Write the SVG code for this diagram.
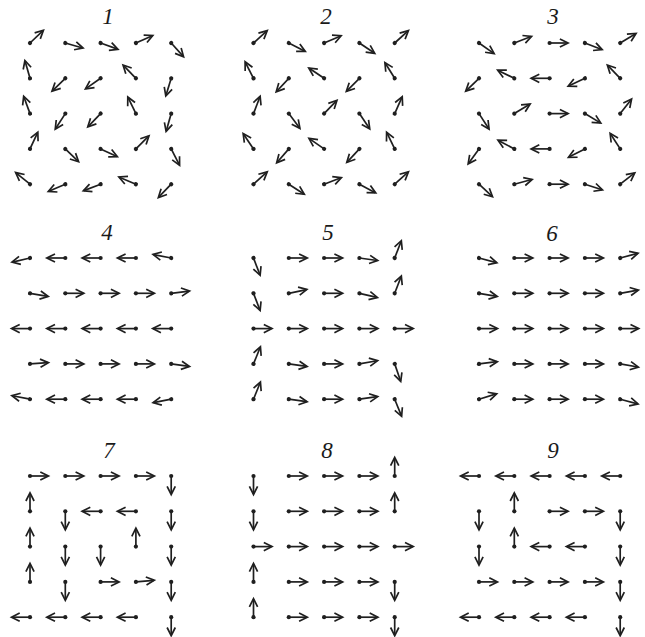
<svg xmlns="http://www.w3.org/2000/svg" width="645" height="637" viewBox="0 0 645 637">
<style>
.t{font-family:"Liberation Serif","Times New Roman",serif;font-style:italic;font-size:23px;fill:#1a1a1a;text-anchor:middle}
.ar line,.ar polyline{stroke:#1f1f1f;stroke-width:1.7;fill:none}
.ar circle{fill:#1f1f1f}
</style>
<defs>
<g id="a" class="ar"><line x1="0" y1="0" x2="18" y2="0"/><polyline points="10.3,-4.1 18.5,0 10.3,4.1"/><circle r="2.1"/></g>
</defs>
<rect width="645" height="637" fill="#fff"/>
<g id="titles">
<text class="t" x="108" y="24">1</text>
<text class="t" x="326" y="24">2</text>
<text class="t" x="553" y="24">3</text>
<text class="t" x="107" y="240">4</text>
<text class="t" x="328" y="240">5</text>
<text class="t" x="552" y="241">6</text>
<text class="t" x="109" y="458">7</text>
<text class="t" x="327" y="458">8</text>
<text class="t" x="553" y="458">9</text>
</g>
<g id="connectors">
<g id="panel1" transform="translate(30,43)">
<use href="#a" transform="translate(0 0) rotate(-43.5)"/><use href="#a" transform="translate(35.3 0) rotate(16)"/><use href="#a" transform="translate(70.6 0) rotate(20)"/><use href="#a" transform="translate(105.9 0) rotate(-24)"/><use href="#a" transform="translate(141.2 0) rotate(48)"/>
<use href="#a" transform="translate(0 35.3) rotate(-106)"/><use href="#a" transform="translate(35.3 35.3) rotate(136)"/><use href="#a" transform="translate(70.6 35.3) rotate(145)"/><use href="#a" transform="translate(105.9 35.3) rotate(-134)"/><use href="#a" transform="translate(141.2 35.3) rotate(107)"/>
<use href="#a" transform="translate(0 70.6) rotate(-110)"/><use href="#a" transform="translate(35.3 70.6) rotate(123)"/><use href="#a" transform="translate(70.6 70.6) rotate(134)"/><use href="#a" transform="translate(105.9 70.6) rotate(-116)"/><use href="#a" transform="translate(141.2 70.6) rotate(106)"/>
<use href="#a" transform="translate(0 105.9) rotate(-65)"/><use href="#a" transform="translate(35.3 105.9) rotate(44)"/><use href="#a" transform="translate(70.6 105.9) rotate(25)"/><use href="#a" transform="translate(105.9 105.9) rotate(-45)"/><use href="#a" transform="translate(141.2 105.9) rotate(63)"/>
<use href="#a" transform="translate(0 141.2) rotate(-141)"/><use href="#a" transform="translate(35.3 141.2) rotate(157)"/><use href="#a" transform="translate(70.6 141.2) rotate(159)"/><use href="#a" transform="translate(105.9 141.2) rotate(-157)"/><use href="#a" transform="translate(141.2 141.2) rotate(134)"/>
</g>
<g id="panel2" transform="translate(253.5,43)">
<use href="#a" transform="translate(0 0) rotate(-42)"/><use href="#a" transform="translate(35.3 0) rotate(27)"/><use href="#a" transform="translate(70.6 0) rotate(-23)"/><use href="#a" transform="translate(105.9 0) rotate(34)"/><use href="#a" transform="translate(141.2 0) rotate(-42)"/>
<use href="#a" transform="translate(0 35.3) rotate(-117)"/><use href="#a" transform="translate(35.3 35.3) rotate(133)"/><use href="#a" transform="translate(70.6 35.3) rotate(-146)"/><use href="#a" transform="translate(105.9 35.3) rotate(135)"/><use href="#a" transform="translate(141.2 35.3) rotate(-122)"/>
<use href="#a" transform="translate(0 70.6) rotate(-69)"/><use href="#a" transform="translate(35.3 70.6) rotate(53)"/><use href="#a" transform="translate(70.6 70.6) rotate(-46)"/><use href="#a" transform="translate(105.9 70.6) rotate(56)"/><use href="#a" transform="translate(141.2 70.6) rotate(-66)"/>
<use href="#a" transform="translate(0 105.9) rotate(-124)"/><use href="#a" transform="translate(35.3 105.9) rotate(131)"/><use href="#a" transform="translate(70.6 105.9) rotate(-145)"/><use href="#a" transform="translate(105.9 105.9) rotate(133)"/><use href="#a" transform="translate(141.2 105.9) rotate(-116)"/>
<use href="#a" transform="translate(0 141.2) rotate(-42)"/><use href="#a" transform="translate(35.3 141.2) rotate(33)"/><use href="#a" transform="translate(70.6 141.2) rotate(-21)"/><use href="#a" transform="translate(105.9 141.2) rotate(28)"/><use href="#a" transform="translate(141.2 141.2) rotate(-42)"/>
</g>
<g id="panel3" transform="translate(479,43)">
<use href="#a" transform="translate(0 0) rotate(35)"/><use href="#a" transform="translate(35.3 0) rotate(-21)"/><use href="#a" transform="translate(70.6 0) rotate(0)"/><use href="#a" transform="translate(105.9 0) rotate(21)"/><use href="#a" transform="translate(141.2 0) rotate(-31)"/>
<use href="#a" transform="translate(0 35.3) rotate(136)"/><use href="#a" transform="translate(35.3 35.3) rotate(-154)"/><use href="#a" transform="translate(70.6 35.3) rotate(180)"/><use href="#a" transform="translate(105.9 35.3) rotate(155)"/><use href="#a" transform="translate(141.2 35.3) rotate(-134)"/>
<use href="#a" transform="translate(0 70.6) rotate(57)"/><use href="#a" transform="translate(35.3 70.6) rotate(-31)"/><use href="#a" transform="translate(70.6 70.6) rotate(0)"/><use href="#a" transform="translate(105.9 70.6) rotate(31)"/><use href="#a" transform="translate(141.2 70.6) rotate(-52)"/>
<use href="#a" transform="translate(0 105.9) rotate(126)"/><use href="#a" transform="translate(35.3 105.9) rotate(-152)"/><use href="#a" transform="translate(70.6 105.9) rotate(180)"/><use href="#a" transform="translate(105.9 105.9) rotate(153)"/><use href="#a" transform="translate(141.2 105.9) rotate(-123)"/>
<use href="#a" transform="translate(0 141.2) rotate(43)"/><use href="#a" transform="translate(35.3 141.2) rotate(-15)"/><use href="#a" transform="translate(70.6 141.2) rotate(0)"/><use href="#a" transform="translate(105.9 141.2) rotate(18)"/><use href="#a" transform="translate(141.2 141.2) rotate(-38)"/>
</g>
<g id="panel4" transform="translate(30,258)">
<use href="#a" transform="translate(0 0) rotate(167)"/><use href="#a" transform="translate(35.3 0) rotate(180)"/><use href="#a" transform="translate(70.6 0) rotate(180)"/><use href="#a" transform="translate(105.9 0) rotate(180)"/><use href="#a" transform="translate(141.2 0) rotate(-169)"/>
<use href="#a" transform="translate(0 35.3) rotate(10)"/><use href="#a" transform="translate(35.3 35.3) rotate(0)"/><use href="#a" transform="translate(70.6 35.3) rotate(0)"/><use href="#a" transform="translate(105.9 35.3) rotate(0)"/><use href="#a" transform="translate(141.2 35.3) rotate(-7)"/>
<use href="#a" transform="translate(0 70.6) rotate(180)"/><use href="#a" transform="translate(35.3 70.6) rotate(180)"/><use href="#a" transform="translate(70.6 70.6) rotate(180)"/><use href="#a" transform="translate(105.9 70.6) rotate(180)"/><use href="#a" transform="translate(141.2 70.6) rotate(180)"/>
<use href="#a" transform="translate(0 105.9) rotate(-4)"/><use href="#a" transform="translate(35.3 105.9) rotate(0)"/><use href="#a" transform="translate(70.6 105.9) rotate(0)"/><use href="#a" transform="translate(105.9 105.9) rotate(0)"/><use href="#a" transform="translate(141.2 105.9) rotate(8)"/>
<use href="#a" transform="translate(0 141.2) rotate(-169)"/><use href="#a" transform="translate(35.3 141.2) rotate(180)"/><use href="#a" transform="translate(70.6 141.2) rotate(180)"/><use href="#a" transform="translate(105.9 141.2) rotate(180)"/><use href="#a" transform="translate(141.2 141.2) rotate(169)"/>
</g>
<g id="panel5" transform="translate(253.5,258)">
<use href="#a" transform="translate(0 0) rotate(69)"/><use href="#a" transform="translate(35.3 0) rotate(0)"/><use href="#a" transform="translate(70.6 0) rotate(0)"/><use href="#a" transform="translate(105.9 0) rotate(8)"/><use href="#a" transform="translate(141.2 0) rotate(-69)"/>
<use href="#a" transform="translate(0 35.3) rotate(69)"/><use href="#a" transform="translate(35.3 35.3) rotate(-12)"/><use href="#a" transform="translate(70.6 35.3) rotate(0)"/><use href="#a" transform="translate(105.9 35.3) rotate(13)"/><use href="#a" transform="translate(141.2 35.3) rotate(-69)"/>
<use href="#a" transform="translate(0 70.6) rotate(0)"/><use href="#a" transform="translate(35.3 70.6) rotate(0)"/><use href="#a" transform="translate(70.6 70.6) rotate(0)"/><use href="#a" transform="translate(105.9 70.6) rotate(0)"/><use href="#a" transform="translate(141.2 70.6) rotate(0)"/>
<use href="#a" transform="translate(0 105.9) rotate(-68)"/><use href="#a" transform="translate(35.3 105.9) rotate(8)"/><use href="#a" transform="translate(70.6 105.9) rotate(0)"/><use href="#a" transform="translate(105.9 105.9) rotate(-10)"/><use href="#a" transform="translate(141.2 105.9) rotate(71)"/>
<use href="#a" transform="translate(0 141.2) rotate(-68)"/><use href="#a" transform="translate(35.3 141.2) rotate(8)"/><use href="#a" transform="translate(70.6 141.2) rotate(0)"/><use href="#a" transform="translate(105.9 141.2) rotate(-8)"/><use href="#a" transform="translate(141.2 141.2) rotate(68)"/>
</g>
<g id="panel6" transform="translate(479,258)">
<use href="#a" transform="translate(0 0) rotate(15)"/><use href="#a" transform="translate(35.3 0) rotate(0)"/><use href="#a" transform="translate(70.6 0) rotate(0)"/><use href="#a" transform="translate(105.9 0) rotate(0)"/><use href="#a" transform="translate(141.2 0) rotate(-15)"/>
<use href="#a" transform="translate(0 35.3) rotate(10)"/><use href="#a" transform="translate(35.3 35.3) rotate(0)"/><use href="#a" transform="translate(70.6 35.3) rotate(0)"/><use href="#a" transform="translate(105.9 35.3) rotate(0)"/><use href="#a" transform="translate(141.2 35.3) rotate(-10)"/>
<use href="#a" transform="translate(0 70.6) rotate(0)"/><use href="#a" transform="translate(35.3 70.6) rotate(0)"/><use href="#a" transform="translate(70.6 70.6) rotate(0)"/><use href="#a" transform="translate(105.9 70.6) rotate(0)"/><use href="#a" transform="translate(141.2 70.6) rotate(0)"/>
<use href="#a" transform="translate(0 105.9) rotate(-7)"/><use href="#a" transform="translate(35.3 105.9) rotate(0)"/><use href="#a" transform="translate(70.6 105.9) rotate(0)"/><use href="#a" transform="translate(105.9 105.9) rotate(0)"/><use href="#a" transform="translate(141.2 105.9) rotate(10)"/>
<use href="#a" transform="translate(0 141.2) rotate(-17)"/><use href="#a" transform="translate(35.3 141.2) rotate(0)"/><use href="#a" transform="translate(70.6 141.2) rotate(0)"/><use href="#a" transform="translate(105.9 141.2) rotate(0)"/><use href="#a" transform="translate(141.2 141.2) rotate(15)"/>
</g>
<g id="panel7" transform="translate(30,476)">
<use href="#a" transform="translate(0 0) rotate(0)"/><use href="#a" transform="translate(35.3 0) rotate(0)"/><use href="#a" transform="translate(70.6 0) rotate(0)"/><use href="#a" transform="translate(105.9 0) rotate(0)"/><use href="#a" transform="translate(141.2 0) rotate(90)"/>
<use href="#a" transform="translate(0 35.3) rotate(-90)"/><use href="#a" transform="translate(35.3 35.3) rotate(90)"/><use href="#a" transform="translate(70.6 35.3) rotate(180)"/><use href="#a" transform="translate(105.9 35.3) rotate(180)"/><use href="#a" transform="translate(141.2 35.3) rotate(90)"/>
<use href="#a" transform="translate(0 70.6) rotate(-90)"/><use href="#a" transform="translate(35.3 70.6) rotate(90)"/><use href="#a" transform="translate(70.6 70.6) rotate(90)"/><use href="#a" transform="translate(105.9 70.6) rotate(-90)"/><use href="#a" transform="translate(141.2 70.6) rotate(90)"/>
<use href="#a" transform="translate(0 105.9) rotate(-90)"/><use href="#a" transform="translate(35.3 105.9) rotate(90)"/><use href="#a" transform="translate(70.6 105.9) rotate(0)"/><use href="#a" transform="translate(105.9 105.9) rotate(-5)"/><use href="#a" transform="translate(141.2 105.9) rotate(90)"/>
<use href="#a" transform="translate(0 141.2) rotate(180)"/><use href="#a" transform="translate(35.3 141.2) rotate(180)"/><use href="#a" transform="translate(70.6 141.2) rotate(180)"/><use href="#a" transform="translate(105.9 141.2) rotate(180)"/><use href="#a" transform="translate(141.2 141.2) rotate(90)"/>
</g>
<g id="panel8" transform="translate(253.5,476)">
<use href="#a" transform="translate(0 0) rotate(90)"/><use href="#a" transform="translate(35.3 0) rotate(0)"/><use href="#a" transform="translate(70.6 0) rotate(0)"/><use href="#a" transform="translate(105.9 0) rotate(0)"/><use href="#a" transform="translate(141.2 0) rotate(-90)"/>
<use href="#a" transform="translate(0 35.3) rotate(90)"/><use href="#a" transform="translate(35.3 35.3) rotate(0)"/><use href="#a" transform="translate(70.6 35.3) rotate(0)"/><use href="#a" transform="translate(105.9 35.3) rotate(0)"/><use href="#a" transform="translate(141.2 35.3) rotate(-90)"/>
<use href="#a" transform="translate(0 70.6) rotate(0)"/><use href="#a" transform="translate(35.3 70.6) rotate(0)"/><use href="#a" transform="translate(70.6 70.6) rotate(0)"/><use href="#a" transform="translate(105.9 70.6) rotate(0)"/><use href="#a" transform="translate(141.2 70.6) rotate(0)"/>
<use href="#a" transform="translate(0 105.9) rotate(-90)"/><use href="#a" transform="translate(35.3 105.9) rotate(0)"/><use href="#a" transform="translate(70.6 105.9) rotate(0)"/><use href="#a" transform="translate(105.9 105.9) rotate(0)"/><use href="#a" transform="translate(141.2 105.9) rotate(90)"/>
<use href="#a" transform="translate(0 141.2) rotate(-90)"/><use href="#a" transform="translate(35.3 141.2) rotate(0)"/><use href="#a" transform="translate(70.6 141.2) rotate(0)"/><use href="#a" transform="translate(105.9 141.2) rotate(0)"/><use href="#a" transform="translate(141.2 141.2) rotate(90)"/>
</g>
<g id="panel9" transform="translate(479,476)">
<use href="#a" transform="translate(0 0) rotate(180)"/><use href="#a" transform="translate(35.3 0) rotate(180)"/><use href="#a" transform="translate(70.6 0) rotate(180)"/><use href="#a" transform="translate(105.9 0) rotate(180)"/><use href="#a" transform="translate(141.2 0) rotate(180)"/>
<use href="#a" transform="translate(0 35.3) rotate(90)"/><use href="#a" transform="translate(35.3 35.3) rotate(-90)"/><use href="#a" transform="translate(70.6 35.3) rotate(0)"/><use href="#a" transform="translate(105.9 35.3) rotate(0)"/><use href="#a" transform="translate(141.2 35.3) rotate(90)"/>
<use href="#a" transform="translate(0 70.6) rotate(90)"/><use href="#a" transform="translate(35.3 70.6) rotate(-90)"/><use href="#a" transform="translate(70.6 70.6) rotate(180)"/><use href="#a" transform="translate(105.9 70.6) rotate(180)"/><use href="#a" transform="translate(141.2 70.6) rotate(90)"/>
<use href="#a" transform="translate(0 105.9) rotate(0)"/><use href="#a" transform="translate(35.3 105.9) rotate(0)"/><use href="#a" transform="translate(70.6 105.9) rotate(0)"/><use href="#a" transform="translate(105.9 105.9) rotate(0)"/><use href="#a" transform="translate(141.2 105.9) rotate(90)"/>
<use href="#a" transform="translate(0 141.2) rotate(180)"/><use href="#a" transform="translate(35.3 141.2) rotate(180)"/><use href="#a" transform="translate(70.6 141.2) rotate(180)"/><use href="#a" transform="translate(105.9 141.2) rotate(180)"/><use href="#a" transform="translate(141.2 141.2) rotate(90)"/>
</g>
</g>
</svg>
